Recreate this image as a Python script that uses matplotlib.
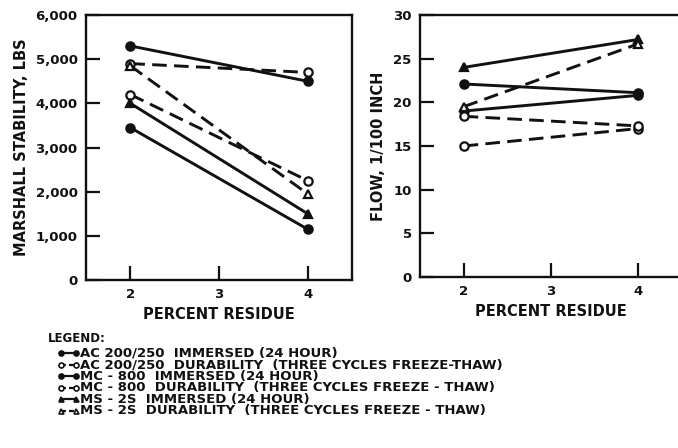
import matplotlib
matplotlib.use("Agg")
import matplotlib.pyplot as plt
from matplotlib.lines import Line2D

# percent residue levels tested
residue = [2, 4]

# Marshall stability, lbs
stab_ac_imm = [5300, 4500]
stab_ac_dur = [4900, 4700]
stab_mc_imm = [3450, 1150]
stab_mc_dur = [4200, 2250]
stab_ms_imm = [4000, 1500]
stab_ms_dur = [4850, 1950]

# flow, 1/100 inch
flow_ac_imm = [22.1, 21.1]
flow_ac_dur = [15.0, 17.0]
flow_mc_imm = [19.0, 20.8]
flow_mc_dur = [18.4, 17.3]
flow_ms_imm = [24.0, 27.2]
flow_ms_dur = [19.5, 26.7]

legend_labels = [
    "AC 200/250  IMMERSED (24 HOUR)",
    "AC 200/250  DURABILITY  (THREE CYCLES FREEZE-THAW)",
    "MC - 800  IMMERSED (24 HOUR)",
    "MC - 800  DURABILITY  (THREE CYCLES FREEZE - THAW)",
    "MS - 2S  IMMERSED (24 HOUR)",
    "MS - 2S  DURABILITY  (THREE CYCLES FREEZE - THAW)",
]

stab_yticks = [0, 1000, 2000, 3000, 4000, 5000, 6000]
stab_ylabels = ["0", "1,000", "2,000", "3,000", "4,000", "5,000", "6,000"]
flow_yticks = [0, 5, 10, 15, 20, 25, 30]

INK = "#111111"
plt.rcParams["font.family"] = "DejaVu Sans"
plt.rcParams["font.weight"] = "bold"

# (marker, dashed?) per series
styles = [("o", False), ("o", True), ("o", False), ("o", True), ("^", False), ("^", True)]


def draw(ax, x, y, marker, dashed):
    ax.plot(x, y, color=INK, lw=2.1,
            ls=(0, (5, 2.5)) if dashed else "-",
            marker=marker, ms=6, mew=1.6,
            mfc="white" if dashed else INK, mec=INK, zorder=3)


def style_axes(ax, yticks, ylabels, ylabel):
    ax.set_xlim(1.5, 4.5)
    ax.set_xticks([2, 3, 4])
    ax.set_yticks(yticks)
    ax.set_yticklabels(ylabels)
    ax.tick_params(direction="in", length=10, width=1.6, labelsize=9.5,
                   colors=INK, pad=6)
    for lab in ax.get_xticklabels() + ax.get_yticklabels():
        lab.set_fontweight("bold")
    for s in ax.spines.values():
        s.set_linewidth(1.7)
        s.set_color(INK)
    ax.set_xlabel("PERCENT RESIDUE", fontsize=10.5, fontweight="bold",
                  color=INK, labelpad=4)
    ax.set_ylabel(ylabel, fontsize=10.5, fontweight="bold", color=INK, labelpad=5)


fig = plt.figure(figsize=(6.78, 4.48), dpi=100)

ax1 = fig.add_axes([86 / 678, 1 - 280 / 448, 266 / 678, 265 / 448])
stab = [stab_ac_imm, stab_ac_dur, stab_mc_imm, stab_mc_dur, stab_ms_imm, stab_ms_dur]
for y, (m, d) in zip(stab, styles):
    draw(ax1, residue, y, m, d)
ax1.set_ylim(0, 6000)
style_axes(ax1, stab_yticks, stab_ylabels, "MARSHALL STABILITY, LBS")

ax2 = fig.add_axes([420 / 678, 1 - 277 / 448, 262 / 678, 262 / 448])
flow = [flow_ac_imm, flow_ac_dur, flow_mc_imm, flow_mc_dur, flow_ms_imm, flow_ms_dur]
for y, (m, d) in zip(flow, styles):
    draw(ax2, residue, y, m, d)
ax2.set_ylim(0, 30)
style_axes(ax2, flow_yticks, [str(v) for v in flow_yticks], "FLOW, 1/100 INCH")

# legend block under the plots, laid out row by row in pixel units
W, H = 678.0, 448.0
fig.text(48 / W, 1 - 338 / H, "LEGEND:", fontsize=8.5, fontweight="bold",
         color=INK, va="center", ha="left")
row0, pitch = 353, 11.5
for i, ((m, d), label) in enumerate(zip(styles, legend_labels)):
    yy = 1 - (row0 + i * pitch) / H
    fig.add_artist(Line2D([61 / W, 76 / W], [yy, yy], transform=fig.transFigure,
                          color=INK, lw=1.6, ls=(0, (2.2, 1.4)) if d else "-",
                          marker=m, ms=3.6, mew=1.2,
                          mfc="white" if d else INK, mec=INK))
    fig.text(80 / W, yy, label, fontsize=9.5, fontweight="bold", color=INK,
             va="center", ha="left")

fig.savefig("out.png", dpi=100, facecolor="white")
